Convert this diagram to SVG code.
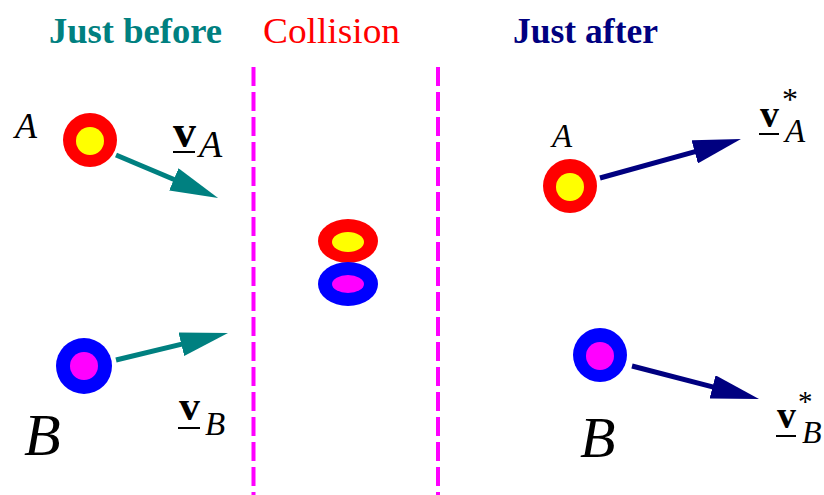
<svg xmlns="http://www.w3.org/2000/svg" width="824" height="495" viewBox="0 0 824 495">
<style>
.title{font-family:"Times New Roman","Liberation Serif","DejaVu Serif",serif;font-size:36px}
.it{font-family:"Times New Roman","Liberation Serif","DejaVu Serif",serif;font-style:italic}
.vb{font-family:"Times New Roman","Liberation Serif","DejaVu Serif",serif;font-weight:bold}
.ast{font-family:"Times New Roman","Liberation Serif","DejaVu Serif",serif}
.red{fill:#ff0000}.yel{fill:#ffff00}.blu{fill:#0000ff}.mag{fill:#ff00ff}
.sep{stroke:#ff00ff;stroke-width:4;stroke-dasharray:19 6;fill:none}
.ul{stroke:#000;stroke-width:2}
.tealA{stroke:#008080;stroke-width:5;fill:none;marker-end:url(#headTeal)}
.navyA{stroke:#000080;stroke-width:5;fill:none;marker-end:url(#headNavy)}
</style>
<defs>
<marker id="headTeal" viewBox="0 0 48 24" refX="8" refY="12" markerWidth="48" markerHeight="24" markerUnits="userSpaceOnUse" orient="auto"><path d="M0,0 L48,12 L0,24 z" fill="#008080"/></marker>
<marker id="headNavy" viewBox="0 0 48 24" refX="8" refY="12" markerWidth="48" markerHeight="24" markerUnits="userSpaceOnUse" orient="auto"><path d="M0,0 L48,12 L0,24 z" fill="#000080"/></marker>
</defs>
<rect width="824" height="495" fill="#ffffff"/>
<g id="titles">
<text class="title" x="49" y="43" fill="#008080" font-weight="bold" textLength="173" lengthAdjust="spacingAndGlyphs">Just before</text>
<text class="title" x="263" y="43" fill="#ff0000" textLength="137" lengthAdjust="spacingAndGlyphs">Collision</text>
<text class="title" x="513" y="43" fill="#000080" font-weight="bold" textLength="145" lengthAdjust="spacingAndGlyphs">Just after</text>
</g>
<g id="separators">
<line class="sep" x1="253.5" y1="67" x2="253.5" y2="495"/>
<line class="sep" x1="438" y1="67" x2="438" y2="495"/>
</g>
<g id="ballA-before">
<circle class="red" cx="90" cy="140" r="27"/>
<circle class="yel" cx="90" cy="141" r="14"/>
<text class="it" x="15" y="138" font-size="36">A</text>
</g>
<g id="ballB-before">
<circle class="blu" cx="84" cy="366" r="28"/>
<circle class="mag" cx="84" cy="366" r="14"/>
<text class="it" x="24" y="455" font-size="60">B</text>
</g>
<g id="collision">
<ellipse class="red" cx="348" cy="241" rx="30" ry="22"/>
<ellipse class="yel" cx="348" cy="242" rx="16" ry="10"/>
<ellipse class="blu" cx="348" cy="284" rx="30" ry="22"/>
<ellipse class="mag" cx="348" cy="284" rx="16" ry="9"/>
</g>
<g id="ballA-after">
<circle class="red" cx="570" cy="186" r="27"/>
<circle class="yel" cx="570" cy="187" r="14"/>
<text class="it" x="552" y="147" font-size="33">A</text>
</g>
<g id="ballB-after">
<circle class="blu" cx="600" cy="355" r="27"/>
<circle class="mag" cx="600" cy="356" r="14"/>
<text class="it" x="580" y="457" font-size="58">B</text>
</g>
<g id="connectors">
<line class="tealA" x1="116" y1="155" x2="181.2" y2="182.5"/>
<line class="tealA" x1="116" y1="360" x2="189.1" y2="342.4"/>
<line class="navyA" x1="600" y1="178" x2="702.4" y2="149.7"/>
<line class="navyA" x1="632" y1="366" x2="720.3" y2="388.9"/>
</g>
<g id="label-vA">
<text class="vb" x="173" y="147" font-size="46">v</text>
<line class="ul" x1="173" y1="152" x2="195" y2="152"/>
<text class="it" x="199" y="157" font-size="38">A</text>
</g>
<g id="label-vB">
<text class="vb" x="179" y="420" font-size="42">v</text>
<line class="ul" x1="178" y1="428" x2="200" y2="428"/>
<text class="it" x="205" y="435" font-size="33">B</text>
</g>
<g id="label-vA-star">
<text class="vb" x="760" y="127" font-size="38">v</text>
<line class="ul" x1="759" y1="134" x2="779" y2="134"/>
<text class="ast" x="782" y="110" font-size="32">*</text>
<text class="it" x="785" y="142" font-size="33">A</text>
</g>
<g id="label-vB-star">
<text class="vb" x="777" y="428" font-size="38">v</text>
<line class="ul" x1="776" y1="436" x2="796" y2="436"/>
<text class="ast" x="798" y="411" font-size="29">*</text>
<text class="it" x="802" y="443" font-size="32">B</text>
</g>
</svg>
